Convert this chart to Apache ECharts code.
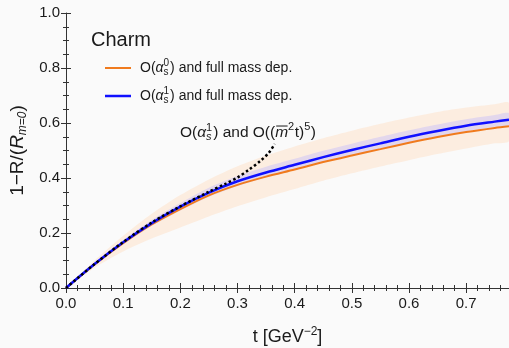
<!DOCTYPE html>
<html>
<head>
<meta charset="UTF-8">
<script src="https://cdn.jsdelivr.net/npm/echarts@6/dist/echarts.min.js"></script>
<style>
  html, body { margin: 0; padding: 0; background: #fafafa; }
  #chart { width: 509px; height: 348px; }
</style>
</head>
<body>
<div id="chart"></div>
<script>
// t values shared by the curves and bands
var tVals = [0, 0.05, 0.1, 0.15, 0.2, 0.25, 0.3, 0.35, 0.4, 0.45, 0.5, 0.55, 0.6, 0.65, 0.7, 0.75, 0.775];
// O(as^1), full mass dependence (blue)
var blueVals = [0, 0.087, 0.166, 0.236, 0.296, 0.347, 0.388, 0.42, 0.448, 0.476, 0.502, 0.526, 0.55, 0.571, 0.59, 0.605, 0.612];
var blueLow  = [0, 0.084, 0.159, 0.226, 0.282, 0.332, 0.371, 0.403, 0.43, 0.457, 0.482, 0.506, 0.53, 0.551, 0.57, 0.586, 0.593];
var blueHigh = [0, 0.091, 0.174, 0.247, 0.309, 0.365, 0.407, 0.441, 0.47, 0.499, 0.525, 0.55, 0.574, 0.595, 0.614, 0.629, 0.636];
// O(as^0), full mass dependence (orange)
var orangeVals = [0, 0.086, 0.163, 0.231, 0.287, 0.337, 0.375, 0.405, 0.431, 0.458, 0.482, 0.505, 0.528, 0.549, 0.567, 0.582, 0.588];
var orangeLow  = [0, 0.074, 0.133, 0.18, 0.22, 0.26, 0.297, 0.33, 0.36, 0.39, 0.417, 0.442, 0.465, 0.487, 0.507, 0.526, 0.535];
var orangeHigh = [0, 0.1, 0.19, 0.27, 0.338, 0.395, 0.443, 0.482, 0.515, 0.545, 0.572, 0.597, 0.62, 0.64, 0.656, 0.668, 0.673];
// O(as^1) and O((m^2 t)^5) expansion (dotted)
var expT = [0, 0.05, 0.1, 0.15, 0.2, 0.25, 0.28, 0.3, 0.32, 0.34, 0.355, 0.365];
var expVals = [0, 0.087, 0.167, 0.238, 0.297, 0.35, 0.38, 0.402, 0.43, 0.462, 0.492, 0.524];

var FONT = '"Liberation Sans", Arial, sans-serif';
var INK = '#1a1a1a';

function pairs(xs, ys) {
  return xs.map(function (x, i) { return [x, ys[i]]; });
}
function bandRows(xs, lo, hi) {
  return xs.map(function (x, i) { return [x, lo[i], hi[i]]; });
}
// whole band drawn as one polygon on the first item
function bandSeries(rows, color, z) {
  return {
    type: 'custom', data: rows, silent: true, z: z,
    encode: { x: 0, y: [1, 2] },
    renderItem: function (params, api) {
      if (params.dataIndex !== 0) return;
      var top = rows.map(function (r) { return api.coord([r[0], r[2]]); });
      var bot = rows.map(function (r) { return api.coord([r[0], r[1]]); }).reverse();
      return {
        type: 'polygon', shape: { points: top.concat(bot), smooth: 0.25 },
        style: { fill: color }
      };
    }
  };
}

// measure text so sub/superscripts can be placed by hand
var mctx = document.createElement('canvas').getContext('2d');
function textW(s, size, italic) {
  mctx.font = (italic ? 'italic ' : '') + size + 'px ' + FONT;
  return mctx.measureText(s).width;
}
function mathRow(x, y, parts, size) {
  var els = [];
  var small = Math.round(size * 0.68);
  parts.forEach(function (p) {
    if (typeof p === 'string') p = { t: p };
    if (p.t != null) {
      els.push(txt(x, y, p.t, size, p.it));
      var w = textW(p.t, size, p.it);
      if (p.bar) {
        els.push({ type: 'line', shape: { x1: x + 1, y1: y - size * 0.45, x2: x + w - 0.5, y2: y - size * 0.45 },
          style: { stroke: INK, lineWidth: 1 } });
      }
      x += w;
    } else if (p.ss) {
      els.push(txt(x, y + size * 0.28, p.ss[0], small, p.it));
      els.push(txt(x, y - size * 0.35, p.ss[1], small, false));
      x += Math.max(textW(p.ss[0], small, p.it), textW(p.ss[1], small, false)) + 1;
    } else if (p.sup) {
      els.push(txt(x, y - size * 0.38, p.sup, small, false));
      x += textW(p.sup, small, false) + 0.5;
    }
  });
  return els;
}
function txt(x, y, s, size, italic) {
  return {
    type: 'text', x: x, y: y, silent: true,
    style: { text: s, fontSize: size, fontFamily: FONT, fontStyle: italic ? 'italic' : 'normal',
      fill: INK, align: 'left', verticalAlign: 'middle' }
  };
}

var graphics = [];
graphics.push({ type: 'text', x: 91, y: 40, style: { text: 'Charm', fontSize: 20, fontFamily: FONT, fill: INK, verticalAlign: 'middle' } });
graphics.push({ type: 'line', shape: { x1: 105, y1: 68, x2: 131, y2: 68 }, style: { stroke: '#f07b1e', lineWidth: 2 } });
graphics.push({ type: 'line', shape: { x1: 105, y1: 96, x2: 131, y2: 96 }, style: { stroke: '#1010ff', lineWidth: 2.5 } });
graphics = graphics.concat(mathRow(140, 68, ['O(', { t: '\u03b1', it: true }, { ss: ['s', '0'] }, ') and full mass dep.'], 14));
graphics = graphics.concat(mathRow(140, 96, ['O(', { t: '\u03b1', it: true }, { ss: ['s', '1'] }, ') and full mass dep.'], 14));
graphics = graphics.concat(mathRow(180, 133, ['O(', { t: '\u03b1', it: true }, { ss: ['s', '1'], it: true }, ') and O((',
  { t: 'm', it: true, bar: true }, { sup: '2' }, 't)', { sup: '5' }, ')'], 15.5));

var axisLine = { lineStyle: { color: '#333', width: 1 } };
var majorTick = { show: true, inside: true, length: 5, lineStyle: { color: '#333' } };
function minor(n) { return { show: true, splitNumber: n, length: 3, lineStyle: { color: '#333' } }; }
function oneDec(v) {
  return Math.abs(v * 10 - Math.round(v * 10)) < 1e-6 ? v.toFixed(1) : '';
}

var chart = echarts.init(document.getElementById('chart'));
chart.setOption({
  backgroundColor: '#fafafa',
  animation: false,
  grid: { left: 66, right: 0, top: 13, bottom: 60, outerBoundsMode: 'none', containLabel: false },
  xAxis: [{
    type: 'value', min: 0, max: 0.775, interval: 0.1, position: 'bottom',
    axisLine: axisLine, axisTick: majorTick, minorTick: minor(5), splitLine: { show: false },
    axisLabel: { formatter: oneDec, fontSize: 15, fontFamily: FONT, color: INK, margin: 8 },
    name: 't [GeV{sup|\u22122}]', nameLocation: 'middle', nameGap: 38,
    nameTextStyle: { fontSize: 18, fontFamily: FONT, color: INK,
      rich: { sup: { fontSize: 12, fontFamily: FONT, color: INK, padding: [0, 0, 10, 0] } } }
  }, {
    type: 'value', min: 0, max: 0.775, interval: 0.1, position: 'top',
    axisLine: axisLine, axisTick: majorTick, minorTick: minor(5), splitLine: { show: false },
    axisLabel: { show: false }
  }],
  yAxis: [{
    type: 'value', min: 0, max: 1, interval: 0.2, position: 'left',
    axisLine: axisLine, axisTick: majorTick, minorTick: minor(4), splitLine: { show: false },
    axisLabel: { formatter: function (v) { return v.toFixed(1); }, fontSize: 15, fontFamily: FONT, color: INK, margin: 6 },
    name: '1\u2212R/({it|R}{sub|m=0})', nameLocation: 'middle', nameRotate: 90, nameGap: 36,
    nameTextStyle: { fontSize: 19, fontFamily: FONT, color: INK,
      rich: {
        it: { fontSize: 19, fontStyle: 'italic', fontFamily: FONT, color: INK },
        sub: { fontSize: 12, fontStyle: 'italic', fontFamily: FONT, color: INK, padding: [9, 0, 0, 0] }
      } }
  }, {
    type: 'value', min: 0, max: 1, interval: 0.2, position: 'right',
    axisLine: { show: false }, axisTick: majorTick, minorTick: minor(4), splitLine: { show: false },
    axisLabel: { show: false }
  }],
  series: [
    bandSeries(bandRows(tVals, orangeLow, orangeHigh), '#fcede0', 1),
    bandSeries(bandRows(tVals, blueLow, blueHigh), '#e3d7ec', 2),
    { type: 'line', data: pairs(tVals, orangeVals), smooth: 0.3, symbol: 'none',
      lineStyle: { color: '#f07b1e', width: 2 }, z: 3 },
    { type: 'line', data: pairs(tVals, blueVals), smooth: 0.3, symbol: 'none',
      lineStyle: { color: '#1010ff', width: 2.5 }, z: 4 },
    { type: 'line', data: pairs(expT, expVals), smooth: 0.3, symbol: 'none',
      lineStyle: { color: '#000', width: 2.5, type: [2.5, 2.5] }, z: 5 }
  ],
  graphic: graphics
});
</script>
</body>
</html>
